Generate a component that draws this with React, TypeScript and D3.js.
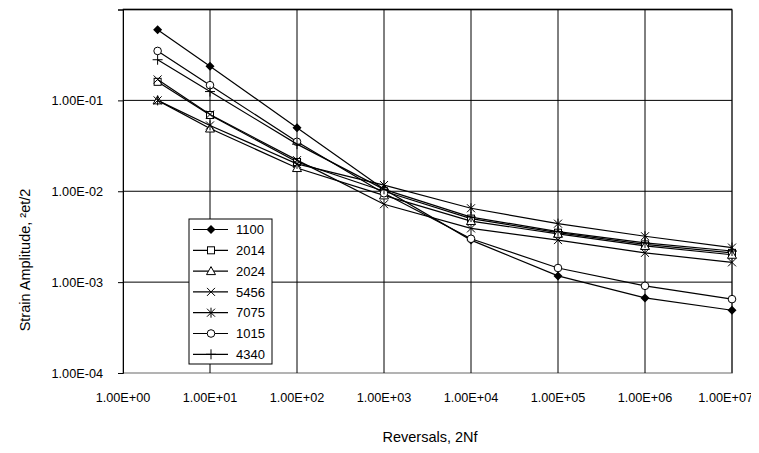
import * as d3 from "d3";
import { useEffect, useRef } from "react";

const reversals = [2.5, 10, 100, 1e3, 1e4, 1e5, 1e6, 1e7];
const seriesNames = ["1100", "2014", "2024", "5456", "7075", "1015", "4340"];
const s1100 = [0.6, 0.238, 0.05, 0.0105, 0.0029, 0.00117, 0.00067, 0.00049];
const s2014 = [0.16, 0.069, 0.021, 0.01, 0.005, 0.0035, 0.0026, 0.0021];
const s2024 = [0.1, 0.049, 0.018, 0.009, 0.0047, 0.0034, 0.0025, 0.002];
const s5456 = [0.17, 0.07, 0.022, 0.0072, 0.0039, 0.0029, 0.0021, 0.00165];
const s7075 = [0.1, 0.053, 0.02, 0.0117, 0.0065, 0.0044, 0.0032, 0.0024];
const s1015 = [0.35, 0.147, 0.035, 0.0095, 0.003, 0.00143, 0.00091, 0.00065];
const s4340 = [0.28, 0.125, 0.033, 0.0105, 0.0052, 0.0036, 0.0027, 0.0022];
const xTicks = [1, 1e1, 1e2, 1e3, 1e4, 1e5, 1e6, 1e7];
const yTicks = [1e-4, 1e-3, 1e-2, 1e-1];

const seriesValues = [s1100, s2014, s2024, s5456, s7075, s1015, s4340];
const markers = ["diamond", "square", "triangle", "x", "asterisk", "circle", "plus"];

function drawMarker(g: any, kind: string, cx: number, cy: number) {
    const s = 4;
    if (kind === "diamond") {
        g.append("path")
            .attr("d", `M${cx},${cy - 4.5}L${cx + 4.5},${cy}L${cx},${cy + 4.5}L${cx - 4.5},${cy}Z`)
            .attr("fill", "#000");
    } else if (kind === "square") {
        g.append("rect").attr("x", cx - 3.5).attr("y", cy - 3.5).attr("width", 7).attr("height", 7)
            .attr("fill", "#fff").attr("stroke", "#000");
    } else if (kind === "triangle") {
        g.append("path")
            .attr("d", `M${cx},${cy - 4.5}L${cx + 4.5},${cy + 3.5}L${cx - 4.5},${cy + 3.5}Z`)
            .attr("fill", "#fff").attr("stroke", "#000");
    } else if (kind === "x") {
        g.append("path")
            .attr("d", `M${cx - s},${cy - s}L${cx + s},${cy + s}M${cx - s},${cy + s}L${cx + s},${cy - s}`)
            .attr("stroke", "#000");
    } else if (kind === "asterisk") {
        g.append("path")
            .attr("d", `M${cx - s},${cy - s}L${cx + s},${cy + s}M${cx - s},${cy + s}L${cx + s},${cy - s}M${cx},${cy - s - 1}L${cx},${cy + s + 1}`)
            .attr("stroke", "#000");
    } else if (kind === "circle") {
        g.append("circle").attr("cx", cx).attr("cy", cy).attr("r", 3.8)
            .attr("fill", "#fff").attr("stroke", "#000");
    } else if (kind === "plus") {
        g.append("path")
            .attr("d", `M${cx - s - 1},${cy}L${cx + s + 1},${cy}M${cx},${cy - s - 1}L${cx},${cy + s + 1}`)
            .attr("stroke", "#000");
    }
}

function FatigueChart() {
    const svgRef = useRef<SVGSVGElement>(null);

    useEffect(() => {
        const svg = d3.select(svgRef.current);
        svg.selectAll("*").remove();

        const width = 759;
        const height = 453;
        const plot = { left: 123, right: 732, top: 9.5, bottom: 373 };
        const font = "'Liberation Sans', Arial, sans-serif";

        svg.attr("width", width).attr("height", height).style("font-family", font);
        svg.append("rect").attr("width", width).attr("height", height).attr("fill", "#fff");

        const x = d3.scaleLog().domain([1, 1e7]).range([plot.left, plot.right]);
        const y = d3.scaleLog().domain([1e-4, 1]).range([plot.bottom, plot.top]);

        // plot frame (grey, like excel)
        svg.append("rect")
            .attr("x", plot.left).attr("y", plot.top)
            .attr("width", plot.right - plot.left).attr("height", plot.bottom - plot.top)
            .attr("fill", "none").attr("stroke", "#9a9a9a").attr("stroke-width", 1.5);

        // gridlines
        svg.append("g")
            .selectAll("line")
            .data(xTicks.slice(1))
            .enter()
            .append("line")
            .attr("x1", d => x(d)).attr("x2", d => x(d))
            .attr("y1", plot.top).attr("y2", plot.bottom)
            .attr("stroke", "#000").attr("stroke-width", 1);

        svg.append("g")
            .selectAll("line")
            .data([...yTicks.slice(1), 1])
            .enter()
            .append("line")
            .attr("x1", plot.left).attr("x2", plot.right)
            .attr("y1", d => y(d)).attr("y2", d => y(d))
            .attr("stroke", "#000").attr("stroke-width", d => (d === 1 ? 1.5 : 1));

        // y axis
        const yAxis = svg.append("g")
            .attr("transform", `translate(${plot.left},0)`)
            .call(d3.axisLeft(y).tickValues([...yTicks, 1]).tickSize(5).tickPadding(15)
                .tickFormat((d: any) => (d === 1 ? "" : d3.format(".2e")(d).replace("e-", "E-0"))));
        yAxis.select(".domain").attr("stroke", "#000");
        yAxis.selectAll("text").style("font-size", "12.7px").style("font-family", font).attr("fill", "#000");

        // x tick labels; the last one is pulled in so it stays inside the picture
        const last = xTicks[xTicks.length - 1];
        svg.append("g")
            .selectAll("text")
            .data(xTicks)
            .enter()
            .append("text")
            .attr("x", d => (d === last ? width - 6 : x(d)))
            .attr("y", 402)
            .attr("text-anchor", d => (d === last ? "end" : "middle"))
            .style("font-size", "12.7px")
            .text(d => "1.00E+0" + Math.round(Math.log10(d)));

        // series
        const line = d3.line<number>()
            .x((_, i) => x(reversals[i]))
            .y(d => y(d));

        seriesValues.forEach((vals, k) => {
            const g = svg.append("g");
            g.append("path")
                .attr("d", line(vals))
                .attr("fill", "none")
                .attr("stroke", "#000")
                .attr("stroke-width", 1.2);
            vals.forEach((v, i) => drawMarker(g, markers[k], x(reversals[i]), y(v)));
        });

        // legend
        const lg = svg.append("g").attr("transform", "translate(189,219)");
        lg.append("rect").attr("width", 83).attr("height", 145)
            .attr("fill", "#fff").attr("stroke", "#000");
        seriesNames.forEach((name, k) => {
            const cy = 10.5 + k * 20.8;
            lg.append("line").attr("x1", 4).attr("x2", 39).attr("y1", cy).attr("y2", cy)
                .attr("stroke", "#000").attr("stroke-width", 1.2);
            drawMarker(lg, markers[k], 22, cy);
            lg.append("text").attr("x", 47).attr("y", cy + 4.7)
                .style("font-size", "13px").text(name);
        });

        // axis titles
        svg.append("text")
            .attr("x", 430)
            .attr("y", 442)
            .attr("text-anchor", "middle")
            .style("font-size", "14.5px")
            .text("Reversals, 2Nf");

        svg.append("text")
            .attr("transform", "rotate(-90)")
            .attr("x", -260)
            .attr("y", 30)
            .attr("text-anchor", "middle")
            .style("font-size", "14.5px")
            .text("Strain Amplitude, ²et/2");
    }, []);

    return <svg ref={svgRef} style={{ display: "block" }} />;
}

export default function App() {
    return (
        <div style={{ margin: -8 }}>
            <FatigueChart />
        </div>
    );
}
